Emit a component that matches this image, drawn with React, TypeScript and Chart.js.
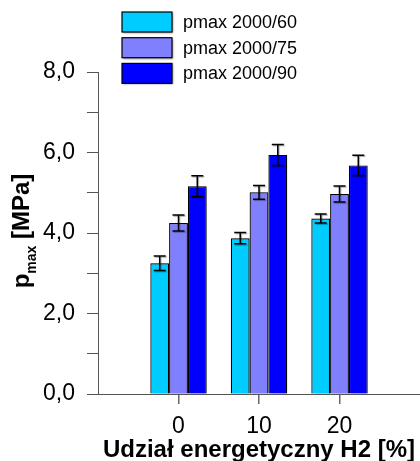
import React, { useEffect, useRef } from 'react';
import { Chart, registerables } from 'chart.js';

Chart.register(...registerables);

const categories = [0, 10, 20];
const seriesLabels = ['pmax 2000/60', 'pmax 2000/75', 'pmax 2000/90'];
const series60 = [3.25, 3.87, 4.36];
const series75 = [4.25, 5.01, 4.97];
const series90 = [5.16, 5.94, 5.68];
const err60 = [0.18, 0.14, 0.11];
const err75 = [0.2, 0.17, 0.2];
const err90 = [0.26, 0.26, 0.25];
const colors = ['#00CCFF', '#8080FF', '#0000FF'];
const yTitleMain = 'p';
const yTitleSub = 'max';
const yTitleRest = ' [MPa]';
const xTitle = 'Udział energetyczny H2 [%]';

const FONT = "'Liberation Sans', Arial, sans-serif";
const allSeries = [series60, series75, series90];
const allErrors = [err60, err75, err90];

const setShadow = (ctx: CanvasRenderingContext2D) => {
  ctx.shadowColor = 'rgba(0,0,0,0.45)';
  ctx.shadowBlur = 2;
  ctx.shadowOffsetX = 1;
  ctx.shadowOffsetY = 1;
};

const customPlugin = {
  id: 'custom',
  beforeDatasetsDraw(chart: any) {
    chart.ctx.save();
    setShadow(chart.ctx);
  },
  afterDatasetsDraw(chart: any) {
    const ctx = chart.ctx as CanvasRenderingContext2D;
    ctx.restore();
    const yScale = chart.scales.y;
    chart.data.datasets.forEach((ds: any, i: number) => {
      const meta = chart.getDatasetMeta(i);
      meta.data.forEach((bar: any, j: number) => {
        const v = allSeries[i][j];
        const e = allErrors[i][j];
        const top = yScale.getPixelForValue(v + e);
        const bot = yScale.getPixelForValue(v - e);
        const x = bar.x;
        ctx.save();
        ctx.shadowColor = 'rgba(0,0,0,0.35)';
        ctx.shadowBlur = 1;
        ctx.shadowOffsetX = 1;
        ctx.shadowOffsetY = 1;
        ctx.strokeStyle = '#000';
        ctx.lineWidth = 1.5;
        ctx.beginPath();
        ctx.moveTo(x, top);
        ctx.lineTo(x, bot);
        ctx.moveTo(x - 6, top);
        ctx.lineTo(x + 6, top);
        ctx.moveTo(x - 6, bot);
        ctx.lineTo(x + 6, bot);
        ctx.stroke();
        ctx.restore();
      });
    });
  },
  afterDraw(chart: any) {
    const ctx = chart.ctx as CanvasRenderingContext2D;
    // legend
    const boxX = 122, boxW = 50, boxH = 20, rowTop = 12, rowStep = 25.7;
    chart.data.datasets.forEach((ds: any, i: number) => {
      const y = rowTop + i * rowStep;
      ctx.save();
      setShadow(ctx);
      ctx.fillStyle = ds.backgroundColor;
      ctx.fillRect(boxX, y, boxW, boxH);
      ctx.restore();
      ctx.save();
      ctx.strokeStyle = '#000';
      ctx.lineWidth = 1.2;
      ctx.strokeRect(boxX, y, boxW, boxH);
      ctx.fillStyle = '#000';
      ctx.font = `18px ${FONT}`;
      ctx.textBaseline = 'middle';
      ctx.textAlign = 'left';
      ctx.fillText(ds.label, 183, y + boxH / 2 + 1);
      ctx.restore();
    });
    // y title with subscript
    ctx.save();
    const mainFont = `bold 24px ${FONT}`;
    const subFont = `bold 14px ${FONT}`;
    ctx.font = mainFont;
    const w1 = ctx.measureText(yTitleMain).width;
    const w3 = ctx.measureText(yTitleRest).width;
    ctx.font = subFont;
    const w2 = ctx.measureText(yTitleSub).width;
    const total = w1 + w2 + w3;
    ctx.translate(29, 231);
    ctx.rotate(-Math.PI / 2);
    ctx.fillStyle = '#000';
    ctx.textBaseline = 'alphabetic';
    ctx.textAlign = 'left';
    let x = -total / 2;
    ctx.font = mainFont;
    ctx.fillText(yTitleMain, x, 0);
    x += w1;
    ctx.font = subFont;
    ctx.fillText(yTitleSub, x, 7);
    x += w2;
    ctx.font = mainFont;
    ctx.fillText(yTitleRest, x, 0);
    ctx.restore();
  },
};

export default function App() {
  const ref = useRef<HTMLCanvasElement>(null);
  useEffect(() => {
    if (!ref.current) return;
    const chart = new Chart(ref.current, {
      type: 'bar',
      data: {
        datasets: allSeries.map((s, i) => ({
          label: seriesLabels[i],
          data: categories.map((c, j) => ({ x: c, y: s[j] })),
          backgroundColor: colors[i],
          borderColor: '#000',
          borderWidth: 1.2,
          categoryPercentage: 0.7,
          barPercentage: 1.0,
        })),
      },
      options: {
        animation: false,
        responsive: false,
        devicePixelRatio: 1,
        layout: { padding: { top: 72, left: 0, right: 0, bottom: 0 } },
        plugins: { legend: { display: false }, tooltip: { enabled: false }, title: { display: false } },
        scales: {
          x: {
            type: 'linear',
            min: -10,
            max: 30,
            offset: false,
            afterBuildTicks: (s: any) => {
              s.ticks = categories.map((v) => ({ value: v }));
            },
            afterFit: (s: any) => {
              s.height = 67;
            },
            grid: { offset: false, drawOnChartArea: false, drawTicks: true, tickLength: 10, color: '#666', lineWidth: 1.5 },
            border: { display: true, color: '#555', width: 1 },
            ticks: {
              color: '#000',
              font: { family: FONT, size: 23 },
              padding: 9,
              autoSkip: false,
              maxRotation: 0,
              callback: (v: any) => String(v),
            },
            title: {
              display: true,
              text: xTitle,
              color: '#000',
              font: { family: FONT, size: 24, weight: 'bold', lineHeight: 1 },
              padding: { top: 0, bottom: -1 },
            },
          },
          y: {
            min: 0,
            max: 8,
            afterFit: (s: any) => {
              s.width = 98;
            },
            grid: { drawOnChartArea: false, drawTicks: true, tickLength: 11, color: '#555', lineWidth: 1 },
            border: { display: true, color: '#555', width: 1 },
            ticks: {
              stepSize: 1,
              autoSkip: false,
              color: '#000',
              font: { family: FONT, size: 23 },
              padding: 12,
              callback: (v: any) => (Number(v) % 2 === 0 ? Number(v).toFixed(1).replace('.', ',') : ''),
            },
          },
        },
      } as any,
      plugins: [customPlugin],
    });
    return () => chart.destroy();
  }, []);
  return (
    <div style={{ position: 'fixed', left: 0, top: 0, width: 420, height: 461, background: '#fff' }}>
      <canvas ref={ref} width={420} height={461} style={{ display: 'block' }} />
    </div>
  );
}
